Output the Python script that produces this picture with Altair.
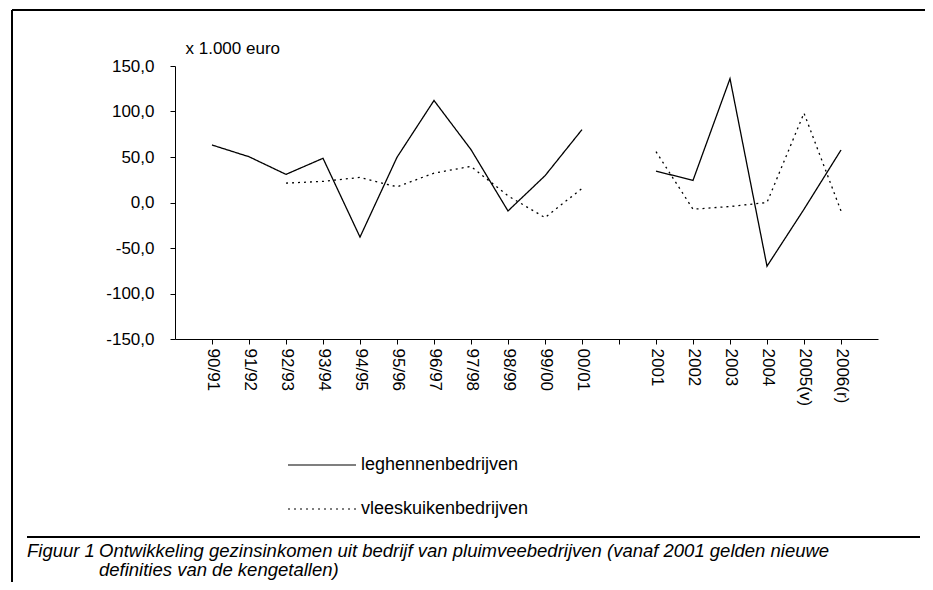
import altair as alt
import pandas as pd

# ---- data ----
categories = ["90/91", "91/92", "92/93", "93/94", "94/95", "95/96", "96/97", "97/98",
              "98/99", "99/00", "00/01", " ", "2001", "2002", "2003", "2004",
              "2005(v)", "2006(r)"]
segments = [1] * 11 + [0] + [2] * 6
leghennen = [63.2, 50.3, 30.9, 48.6, -38.0, 49.7, 112.1, 58.1, -9.3, 29.4, 80.1,
             None, 34.5, 24.3, 136.1, -70.0, -7.4, 57.7]
vleeskuiken = [None, None, 21.3, 23.2, 27.6, 17.2, 32.3, 39.7, 7.3, -16.6, 15.5,
               None, 55.9, -7.4, -4.4, 0.0, 98.2, -9.3]
series_names = ["leghennenbedrijven", "vleeskuikenbedrijven"]
y_ticks = [-150, -100, -50, 0, 50, 100, 150]
y_title = "x 1.000 euro"
caption_label = "Figuur 1"
caption_lines = ["Ontwikkeling gezinsinkomen uit bedrijf van pluimveebedrijven (vanaf 2001 gelden nieuwe",
                 "definities van de kengetallen)"]

rows = []
for name, vals in zip(series_names, [leghennen, vleeskuiken]):
    for c, s, v in zip(categories, segments, vals):
        if v is not None:
            rows.append({"cat": c, "segment": s, "series": name, "value": v})
df = pd.DataFrame(rows)

FONT = "Liberation Sans"
W, H = 703, 273
CAP = 18.5

lines = alt.Chart(df).mark_line(color="black", strokeWidth=1.3).encode(
    x=alt.X("cat:N", sort=categories,
            scale=alt.Scale(type="point", domain=categories, padding=1),
            axis=alt.Axis(title=None, labelAngle=90, labelAlign="left", labelBaseline="middle",
                          labelPadding=4, tickSize=5, tickColor="black", domainColor="black",
                          labelColor="black", labelFont=FONT, labelFontSize=17, grid=False)),
    y=alt.Y("value:Q", scale=alt.Scale(domain=[-150, 150], nice=False, zero=False),
            axis=alt.Axis(values=y_ticks, title=y_title, titleAngle=0, titleAlign="left",
                          titleBaseline="alphabetic", titleX=10, titleY=-13,
                          titleFont=FONT, titleFontSize=17, titleFontWeight="normal",
                          titleColor="black",
                          labelExpr="replace(replace(format(datum.value, '.1f'), '.', ','), '\u2212', '-')",
                          labelPadding=16, tickSize=5, tickColor="black", domainColor="black",
                          labelColor="black", labelFont=FONT, labelFontSize=17, grid=False)),
    strokeDash=alt.StrokeDash("series:N",
                              scale=alt.Scale(domain=series_names, range=[[1, 0], [2, 4]]),
                              legend=alt.Legend(title=None, orient="none", legendX=112, legendY=364,
                                                symbolType="stroke", symbolSize=4624,
                                                symbolStrokeWidth=1.2, symbolStrokeColor="black",
                                                labelFont=FONT, labelFontSize=18, labelColor="black",
                                                labelLimit=400, labelOffset=4, rowPadding=-16)),
    detail="segment:N",
)

one = pd.DataFrame({"k": [0]})
top_border = alt.Chart(one).mark_rule(color="black", strokeWidth=2).encode(
    x=alt.value(-163), x2=alt.value(760), y=alt.value(-56))
left_border = alt.Chart(one).mark_rule(color="black", strokeWidth=2).encode(
    x=alt.value(-163), y=alt.value(-56), y2=alt.value(530))
cap_rule = alt.Chart(one).mark_rule(color="black", strokeWidth=2).encode(
    x=alt.value(-148), x2=alt.value(745), y=alt.value(471))

cap_label = alt.Chart(pd.DataFrame({"t": [caption_label]})).mark_text(
    font=FONT, fontSize=CAP, fontStyle="italic", align="left", baseline="alphabetic",
    color="black").encode(x=alt.value(-148), y=alt.value(491), text="t:N")
cap1 = alt.Chart(pd.DataFrame({"t": [caption_lines[0]]})).mark_text(
    font=FONT, fontSize=CAP, fontStyle="italic", align="left", baseline="alphabetic",
    color="black").encode(x=alt.value(-76), y=alt.value(491), text="t:N")
cap2 = alt.Chart(pd.DataFrame({"t": [caption_lines[1]]})).mark_text(
    font=FONT, fontSize=CAP, fontStyle="italic", align="left", baseline="alphabetic",
    color="black").encode(x=alt.value(-76), y=alt.value(510), text="t:N")

chart = alt.layer(lines, top_border, left_border, cap_rule, cap_label, cap1, cap2).properties(
    width=W, height=H,
    autosize=alt.AutoSizeParams(type="none"),
    padding={"left": 167, "top": 58, "right": 47, "bottom": 243},
    background="white",
).configure_view(stroke=None)

chart.save("out.html", embed_options={"renderer": "svg", "actions": False})
